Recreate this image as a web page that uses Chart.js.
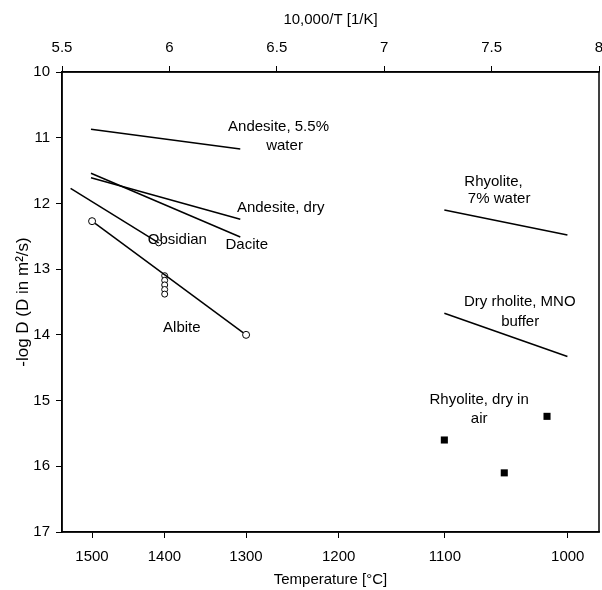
<!DOCTYPE html>
<html>
<head>
<meta charset="utf-8">
<script src="https://cdn.jsdelivr.net/npm/chart.js@4.4.0/dist/chart.umd.min.js"></script>
<style>
  html, body { margin: 0; padding: 0; background: #fff; overflow: hidden; }
  #wrap { width: 602px; height: 590px; }
  canvas { display: block; }
</style>
</head>
<body>
<div id="wrap"><canvas id="myChart" width="602" height="590"></canvas></div>
<script>
// x values are 10,000/T [1/K], y values are -log D
var topTicks = [5.5, 6, 6.5, 7, 7.5, 8];
var tempTicks = [1500, 1400, 1300, 1200, 1100, 1000];

var andesiteWetX = [5.635, 6.33];
var andesiteWetY = [10.87, 11.17];
var andesiteDryX = [5.635, 6.33];
var andesiteDryY = [11.61, 12.24];
var daciteX = [5.635, 6.33];
var daciteY = [11.54, 12.51];
var obsidianX = [5.54, 5.95];
var obsidianY = [11.77, 12.6];
var albiteX = [5.64, 6.357];
var albiteY = [12.27, 14.0];
var obsCircleX = [5.95, 5.978, 5.978, 5.978, 5.978, 5.978];
var obsCircleY = [12.6, 13.1, 13.17, 13.24, 13.31, 13.38];
var rhyWetX = [7.28, 7.853];
var rhyWetY = [12.1, 12.48];
var rhyMnoX = [7.28, 7.853];
var rhyMnoY = [13.67, 14.33];
var rhyAirX = [7.28, 7.758, 7.559];
var rhyAirY = [15.6, 15.24, 16.1];

var labels = [
  { text: "Andesite, 5.5%", x: 6.508, y: 10.84 },
  { text: "water", x: 6.536, y: 11.13 },
  { text: "Andesite, dry", x: 6.518, y: 12.07 },
  { text: "Obsidian", x: 6.037, y: 12.56 },
  { text: "Dacite", x: 6.36, y: 12.63 },
  { text: "Albite", x: 6.058, y: 13.9 },
  { text: "Rhyolite,", x: 7.509, y: 11.67 },
  { text: "7% water", x: 7.535, y: 11.93 },
  { text: "Dry rholite, MNO", x: 7.631, y: 13.5 },
  { text: "buffer", x: 7.633, y: 13.8 },
  { text: "Rhyolite, dry in", x: 7.442, y: 14.99 },
  { text: "air", x: 7.442, y: 15.28 },
];

var FONT = "'Liberation Sans', Arial, sans-serif";

toPoints = (xs, ys) => xs.map((x, i) => ({ x: x, y: ys[i] }));

lineSet = (xs, ys) => ({
  data: toPoints(xs, ys),
  showLine: true,
  borderColor: "#000",
  borderWidth: 1.5,
  pointRadius: 0,
});

// fixed box size, and no extra room asked for the end labels
fitHorizontal = (h) => (scale) => {
  scale.height = h;
  scale.paddingLeft = 0;
  scale.paddingRight = 0;
};

var textPlugin = {
  id: "textLabels",
  beforeDatasetsDraw: (chart) => {
    const ctx = chart.ctx;
    const sx = chart.scales.x;
    const sy = chart.scales.y;
    ctx.save();
    ctx.font = "15px " + FONT;
    ctx.fillStyle = "#000";
    ctx.textAlign = "center";
    ctx.textBaseline = "middle";
    labels.forEach((l) => {
      ctx.fillText(l.text, sx.getPixelForValue(l.x), sy.getPixelForValue(l.y));
    });
    ctx.restore();
  },
  afterDraw: (chart) => {
    const a = chart.chartArea;
    const ctx = chart.ctx;
    ctx.save();
    ctx.strokeStyle = "#000";
    ctx.lineWidth = 1.5;
    ctx.strokeRect(a.left, a.top, a.right - a.left, a.bottom - a.top);
    ctx.restore();
  },
};

var gridOpts = {
  display: true,
  drawOnChartArea: false,
  color: "#000",
  tickLength: 6,
};

const ctx = document.getElementById("myChart").getContext("2d");
const myChart = new Chart(ctx, {
  type: "scatter",
  data: {
    datasets: [
      lineSet(andesiteWetX, andesiteWetY),
      lineSet(andesiteDryX, andesiteDryY),
      lineSet(daciteX, daciteY),
      lineSet(obsidianX, obsidianY),
      lineSet(rhyWetX, rhyWetY),
      lineSet(rhyMnoX, rhyMnoY),
      {
        data: toPoints(albiteX, albiteY),
        showLine: true,
        borderColor: "#000",
        borderWidth: 1.5,
        pointRadius: 3.5,
        pointBackgroundColor: "#fff",
        pointBorderColor: "#000",
        pointBorderWidth: 1,
      },
      {
        data: toPoints(obsCircleX, obsCircleY),
        pointRadius: 3,
        pointBackgroundColor: "#fff",
        pointBorderColor: "#000",
        pointBorderWidth: 1,
      },
      {
        data: toPoints(rhyAirX, rhyAirY),
        pointStyle: "rect",
        pointRadius: 5,
        pointBackgroundColor: "#000",
        pointBorderColor: "#000",
        pointBorderWidth: 0,
      },
    ],
  },
  options: {
    responsive: false,
    animation: false,
    layout: { autoPadding: false, padding: { left: 0, right: 3, top: 0, bottom: 0 } },
    plugins: { legend: { display: false }, tooltip: { enabled: false } },
    scales: {
      x: {
        type: "linear",
        position: "bottom",
        min: 5.5,
        max: 8,
        afterBuildTicks: (scale) => {
          scale.ticks = tempTicks.map((t) => ({ value: 10000 / (t + 273.15) }));
        },
        afterFit: fitHorizontal(58),
        grid: gridOpts,
        border: { display: true, color: "#000", width: 1.5 },
        ticks: {
          color: "#000",
          font: { family: FONT, size: 15 },
          padding: 10,
          maxRotation: 0,
          callback: (v) => String(Math.round(10000 / v - 273.15)),
        },
        title: {
          display: true,
          text: "Temperature [°C]",
          color: "#000",
          font: { family: FONT, size: 15 },
          padding: { top: 0, bottom: 1 },
        },
      },
      x2: {
        type: "linear",
        position: "top",
        min: 5.5,
        max: 8,
        afterBuildTicks: (scale) => {
          scale.ticks = topTicks.map((v) => ({ value: v }));
        },
        afterFit: fitHorizontal(72),
        grid: gridOpts,
        border: { display: true, color: "#000", width: 1.5 },
        ticks: {
          color: "#000",
          font: { family: FONT, size: 15 },
          padding: 9,
          maxRotation: 0,
          callback: (v) => String(v),
        },
        title: {
          display: true,
          text: "10,000/T [1/K]",
          color: "#000",
          font: { family: FONT, size: 15 },
          padding: { top: 11, bottom: 0 },
        },
      },
      y: {
        type: "linear",
        reverse: true,
        min: 10,
        max: 17,
        afterFit: (scale) => { scale.width = 62; },
        grid: gridOpts,
        border: { display: true, color: "#000", width: 1.5 },
        ticks: {
          stepSize: 1,
          color: "#000",
          font: { family: FONT, size: 15 },
          padding: 6,
        },
        title: {
          display: true,
          text: "-log D (D in m²/s)",
          color: "#000",
          font: { family: FONT, size: 17 },
          padding: { top: 13, bottom: 0 },
        },
      },
    },
  },
  plugins: [textPlugin],
});
</script>
</body>
</html>
